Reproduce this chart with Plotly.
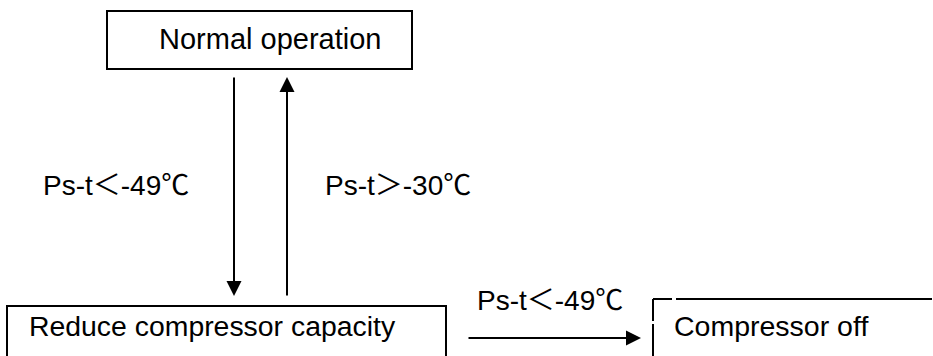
import plotly.graph_objects as go

# text of the diagram
node_labels = ["Normal operation", "Reduce compressor capacity", "Compressor off"]
condition_labels = ["Ps-t＜-49℃", "Ps-t＞-30℃", "Ps-t＜-49℃"]

W, H = 933, 356
FONT = "Arial, 'Liberation Sans', 'Noto Sans CJK SC', sans-serif"
LINE = dict(color="black", width=2)

# boxes (x0, y0, x1, y1) in pixel coords, y down
boxes = [
    (107, 11, 412, 69),
    (7, 306, 446, 380),
]
# text anchors (left x, mid-cap y)
node_pos = [(157, 39), (27, 326), (672, 326)]
node_size = [29, 28.4, 28.5]
cond_pos = [(41, 185), (323, 185), (475, 300)]
# arrows (tail x, tail y, tip x, tip y)
arrows = [
    (234, 76, 234, 296),
    (287, 297, 287, 77),
    (467, 338, 641, 338),
]

shapes = []
for x0, y0, x1, y1 in boxes:
    shapes.append(dict(type="rect", xref="x", yref="y", x0=x0, y0=y0, x1=x1, y1=y1,
                       line=LINE, fillcolor="rgba(0,0,0,0)"))

# the "Compressor off" box is only partly visible, with small breaks in its edges
for x0, y0, x1, y1 in [(653, 299, 672, 299), (676, 299, 932, 299),
                       (653, 299, 653, 321), (653, 324, 653, 380)]:
    shapes.append(dict(type="line", xref="x", yref="y", x0=x0, y0=y0, x1=x1, y1=y1, line=LINE))

annotations = []
for (x, y), s, t in zip(node_pos, node_size, node_labels):
    annotations.append(dict(x=x, y=y, xref="x", yref="y", text=t, showarrow=False,
                            xanchor="left", yanchor="middle",
                            font=dict(family=FONT, size=s, color="black")))
for (x, y), t in zip(cond_pos, condition_labels):
    annotations.append(dict(x=x, y=y, xref="x", yref="y", text=t, showarrow=False,
                            xanchor="left", yanchor="middle",
                            font=dict(family=FONT, size=28, color="black")))
for ax, ay, x, y in arrows:
    annotations.append(dict(x=x, y=y, ax=ax, ay=ay, xref="x", yref="y", axref="x", ayref="y",
                            text="", showarrow=True, arrowhead=2, arrowsize=1.5,
                            arrowwidth=2, arrowcolor="black", standoff=0, startstandoff=0))

fig = go.Figure()
fig.update_layout(
    width=W, height=H,
    margin=dict(l=0, r=0, t=0, b=0),
    paper_bgcolor="white", plot_bgcolor="white",
    xaxis=dict(range=[0, W], visible=False, fixedrange=True),
    yaxis=dict(range=[H, 0], visible=False, fixedrange=True),
    shapes=shapes,
    annotations=annotations,
    showlegend=False,
)

# drop the default body margin so the figure sits at the page corner
fig.write_html("out.html", config=dict(displayModeBar=False),
               post_script="document.body.style.margin='0';")
